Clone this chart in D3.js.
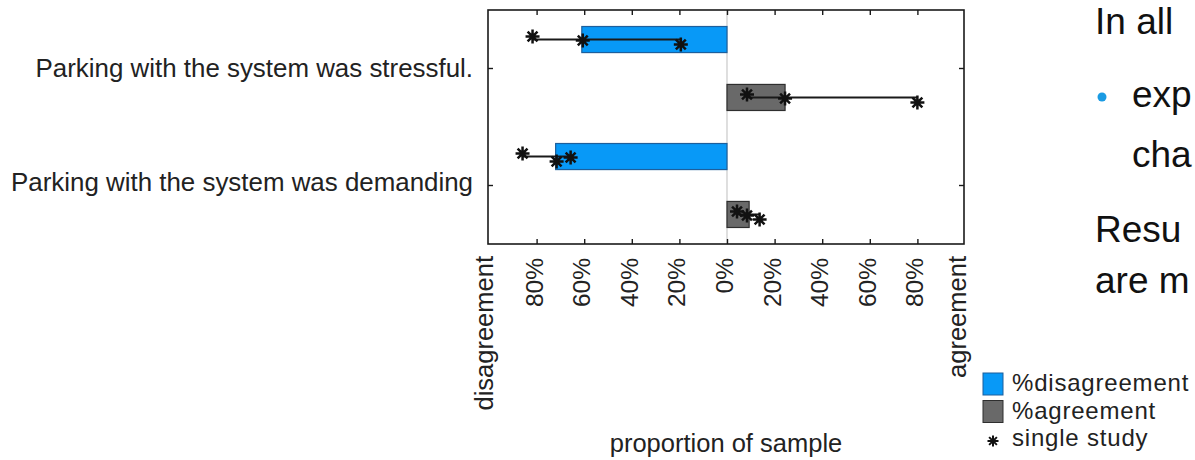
<!DOCTYPE html>
<html>
<head>
<meta charset="utf-8">
<script src="https://cdn.jsdelivr.net/npm/d3@7"></script>
<style>
  body { margin: 0; background: #fff; }
  svg { display: block; font-family: "Liberation Sans", Arial, sans-serif; }
</style>
</head>
<body>
<svg width="1195" height="460"></svg>
<script>
// statements on the y axis
const categories = [
  "Parking with the system was stressful.",
  "Parking with the system was demanding",
];
// bar values, proportion of sample
const disagreement = [0.61, 0.72];
const agreement = [0.244, 0.093];
// single study values, in the order they are stacked
const studiesDisagreement = [
  [0.817, 0.606, 0.194],
  [0.859, 0.657, 0.716],
];
const studiesAgreement = [
  [0.084, 0.244, 0.8],
  [0.042, 0.084, 0.137],
];
const tickValues = [-0.8, -0.6, -0.4, -0.2, 0, 0.2, 0.4, 0.6, 0.8];
const legendLabels = ["%disagreement", "%agreement", "single study"];
const slideLines = ["In all", "exp", "cha", "Resu", "are m"];

const blue = "#0899f7";
const gray = "#696969";

const svg = d3.select("svg");
const plotLeft = 488, plotRight = 964, plotTop = 10, plotBottom = 244;

const x = d3.scaleLinear([-1, 1], [489, 965]);
const y = d3.scaleBand(categories, [plotTop, plotBottom]);
const ySub = d3
  .scaleBand(["dis", "agr"], [0, y.bandwidth()])
  .paddingInner(0.55)
  .paddingOuter(0.285);
const jitter = d3.scalePoint([0, 1, 2], [-3, 5]);

// zero line
svg
  .append("line")
  .attr("x1", x(0))
  .attr("x2", x(0))
  .attr("y1", plotTop)
  .attr("y2", plotBottom)
  .style("stroke", "#c9c9c9")
  .style("stroke-width", 1.2);

// rows of bars
const rows = categories.map((c, i) => ({
  cat: c,
  bars: [
    { key: "dis", value: -disagreement[i], studies: studiesDisagreement[i].map((v) => -v) },
    { key: "agr", value: agreement[i], studies: studiesAgreement[i] },
  ],
}));

const Gs = svg
  .selectAll("g.row")
  .data(rows)
  .join("g")
  .attr("class", "row")
  .attr("transform", (d) => `translate(0,${y(d.cat)})`);

const barGs = Gs.selectAll("g.bar")
  .data((d) => d.bars)
  .join("g")
  .attr("class", "bar");

barGs
  .append("rect")
  .attr("x", (d) => Math.min(x(0), x(d.value)))
  .attr("width", (d) => Math.abs(x(d.value) - x(0)))
  .attr("y", (d) => ySub(d.key))
  .attr("height", ySub.bandwidth())
  .style("fill", (d) => (d.key === "dis" ? blue : gray))
  .style("stroke", (d) => (d.key === "dis" ? "#1d5f9c" : "#2e2e2e"))
  .style("stroke-width", 1.2);

barGs
  .append("line")
  .attr("x1", (d) => x(d3.min(d.studies)))
  .attr("x2", (d) => x(d3.max(d.studies)))
  .attr("y1", (d) => ySub(d.key) + ySub.bandwidth() / 2)
  .attr("y2", (d) => ySub(d.key) + ySub.bandwidth() / 2)
  .style("stroke", "#1a1a1a")
  .style("stroke-width", 2);

function star(r) {
  const p = d3.path();
  for (let a = 0; a < 4; a++) {
    const t = (a * Math.PI) / 4;
    p.moveTo(-r * Math.cos(t), -r * Math.sin(t));
    p.lineTo(r * Math.cos(t), r * Math.sin(t));
  }
  return p.toString();
}

barGs
  .selectAll("path.star")
  .data((d) => d.studies.map((v, i) => ({ v, i, key: d.key })))
  .join("path")
  .attr("class", "star")
  .attr("d", star(7))
  .attr(
    "transform",
    (d) => `translate(${x(d.v)},${ySub(d.key) + ySub.bandwidth() / 2 + jitter(d.i)})`
  )
  .style("stroke", "#111")
  .style("stroke-width", 2.5)
  .style("fill", "none");

// frame
svg
  .append("rect")
  .attr("x", plotLeft)
  .attr("y", plotTop)
  .attr("width", plotRight - plotLeft)
  .attr("height", plotBottom - plotTop)
  .style("fill", "none")
  .style("stroke", "#1a1a1a")
  .style("stroke-width", 1.6);

// inward ticks on all four sides
const tickStyle = (g) => {
  g.select(".domain").remove();
  g.selectAll("line").style("stroke", "#1a1a1a").style("stroke-width", 1.4);
};
svg
  .append("g")
  .attr("transform", `translate(0,${plotTop})`)
  .call(d3.axisBottom(x).tickValues(tickValues).tickSize(5).tickFormat(""))
  .call(tickStyle);
const xAxis = svg
  .append("g")
  .attr("transform", `translate(0,${plotBottom})`)
  .call(
    d3
      .axisTop(x)
      .tickValues(tickValues)
      .tickSize(5)
      .tickFormat((d) => Math.round(Math.abs(d) * 100) + "%")
  )
  .call(tickStyle);
xAxis
  .selectAll("text")
  .attr("transform", "rotate(-90)")
  .attr("x", -14)
  .attr("y", -3)
  .attr("dy", "0.35em")
  .attr("text-anchor", "end")
  .style("font-size", "24.5px")
  .style("fill", "#222");

const yPos = (d) => y(d) + y.bandwidth() / 2;
svg
  .append("g")
  .attr("transform", `translate(${plotLeft},0)`)
  .call(d3.axisRight(y).tickSize(5).tickFormat(""))
  .call(tickStyle);
svg
  .append("g")
  .attr("transform", `translate(${plotRight},0)`)
  .call(d3.axisLeft(y).tickSize(5).tickFormat(""))
  .call(tickStyle);

// category labels
svg
  .selectAll("text.cat")
  .data(categories)
  .join("text")
  .attr("class", "cat")
  .text((d) => d)
  .attr("x", plotLeft - 15)
  .attr("y", (d, i) => yPos(d) + (i === 0 ? 8 : 5))
  .attr("text-anchor", "end")
  .style("font-size", "25.9px")
  .style("fill", "#222");

// axis end labels
[
  ["disagreement", 493],
  ["agreement", 966],
].forEach(([t, bx]) => {
  svg
    .append("text")
    .text(t)
    .attr("transform", `translate(${bx},256) rotate(-90)`)
    .attr("text-anchor", "end")
    .style("font-size", "25.5px")
    .style("fill", "#222");
});

svg
  .append("text")
  .text("proportion of sample")
  .attr("x", x(0) - 1)
  .attr("y", 452)
  .attr("text-anchor", "middle")
  .style("font-size", "25.5px")
  .style("fill", "#222");

// legend
const legend = svg.append("g").attr("transform", "translate(983,373)");
legendLabels.forEach((t, i) => {
  const ly = i * 27.5;
  if (i < 2) {
    legend
      .append("rect")
      .attr("x", 0)
      .attr("y", ly)
      .attr("width", 20)
      .attr("height", 22)
      .style("fill", i === 0 ? blue : gray)
      .style("stroke", i === 0 ? "#1d5f9c" : "#2e2e2e")
      .style("stroke-width", 1);
  } else {
    legend
      .append("path")
      .attr("d", star(5.5))
      .attr("transform", `translate(10,${ly + 13})`)
      .style("stroke", "#111")
      .style("stroke-width", 2);
  }
  legend
    .append("text")
    .text(t)
    .attr("x", 29)
    .attr("y", ly + 18)
    .style("font-size", "24px")
    .style("letter-spacing", "0.8px")
    .style("fill", "#222");
});

// slide text cut off at the right edge
const slideX = [1095, 1132, 1132, 1095, 1095];
const slideY = [34, 107, 167, 242, 293];
svg
  .selectAll("text.slide")
  .data(slideLines)
  .join("text")
  .attr("class", "slide")
  .text((d) => d)
  .attr("x", (d, i) => slideX[i])
  .attr("y", (d, i) => slideY[i])
  .style("font-size", "37px")
  .style("fill", "#111");
svg
  .append("circle")
  .attr("cx", 1102)
  .attr("cy", 97)
  .attr("r", 4.5)
  .style("fill", "#1a9be3");
</script>
</body>
</html>
